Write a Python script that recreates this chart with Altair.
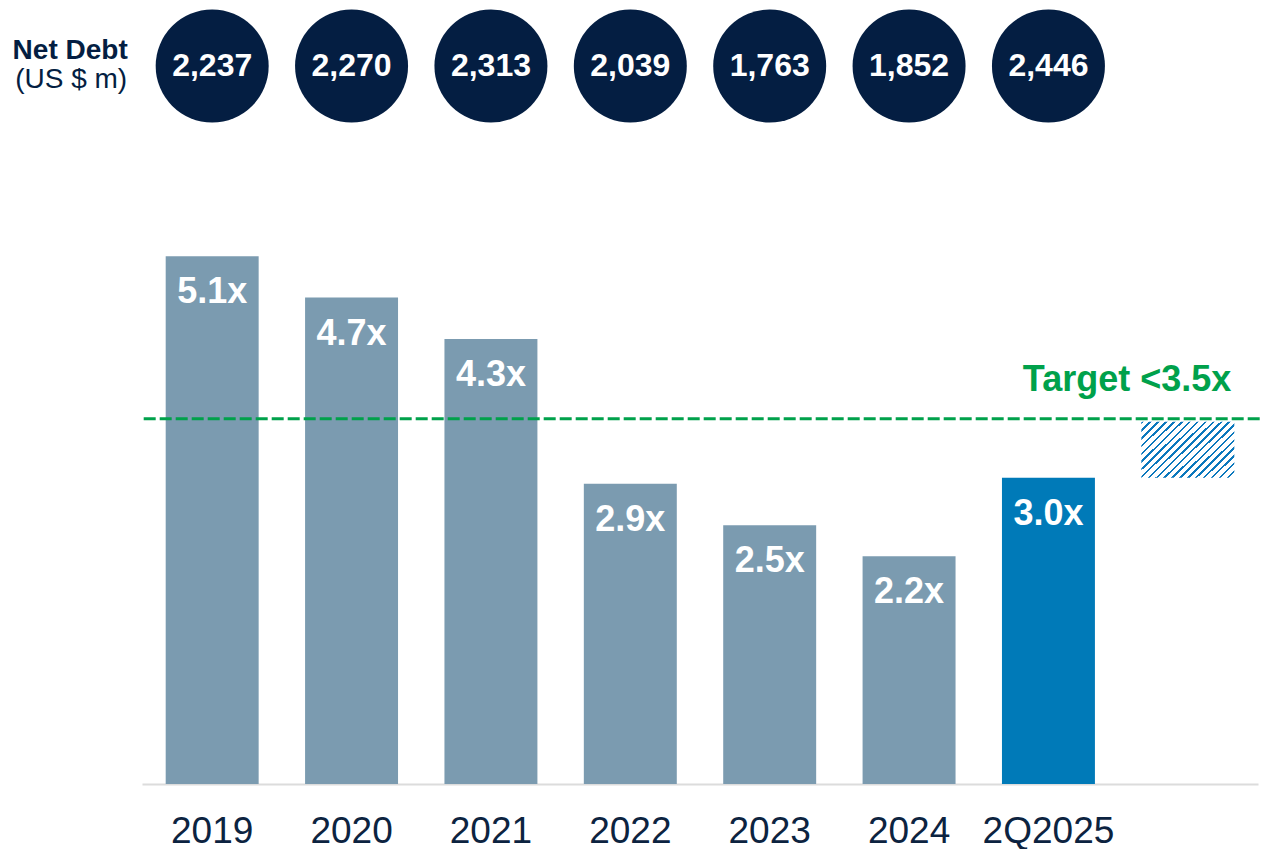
import altair as alt
import pandas as pd

# ---------------- data ----------------
years = ["2019", "2020", "2021", "2022", "2023", "2024", "2Q2025"]
leverage = [5.1, 4.7, 4.3, 2.9, 2.5, 2.2, 2.96]
bar_labels = ["5.1x", "4.7x", "4.3x", "2.9x", "2.5x", "2.2x", "3.0x"]
kinds = ["hist", "hist", "hist", "hist", "hist", "hist", "current"]
net_debt = [2237, 2270, 2313, 2039, 1763, 1852, 2446]
target_line = 3.53
target_label = "Target <3.5x"
gap_category = " "
headroom_top = [3.5]
headroom_bottom = [2.96]
side_title = ["Net Debt", "(US $ m)"]

x_domain = years + [gap_category]

# ---------------- style ----------------
FONT = "Liberation Sans"
NAVY = "#041e42"
GREY = "#7b9bb0"
BLUE = "#007ab8"
GREEN = "#00a14b"
LABEL = "#0c2340"
HATCH = "#0b78bd"

# diagonal hatch built from a hard-stop linear gradient
n_stripes = 19
frac = 0.32
stops = []
for i in range(n_stripes):
    a = i / n_stripes
    b = (i + frac) / n_stripes
    stops += [
        {"offset": a, "color": "white"},
        {"offset": a, "color": HATCH},
        {"offset": b, "color": HATCH},
        {"offset": b, "color": "white"},
    ]
stops.append({"offset": 1, "color": "white"})
hatch_fill = {"gradient": "linear", "x1": 0, "y1": 0, "x2": 1.172, "y2": 0.719, "stops": stops}

bars_df = pd.DataFrame({"year": years, "lev": leverage, "label": bar_labels, "kind": kinds})
nd_df = pd.DataFrame({"year": years, "nd": net_debt})
target_df = pd.DataFrame({
    "year": [gap_category], "start": [years[0]], "end": [gap_category],
    "lev": [target_line], "label": [target_label],
})
head_df = pd.DataFrame({"year": [gap_category], "top": headroom_top, "bottom": headroom_bottom})
title_df = pd.DataFrame({"year": [years[0]], "t1": [side_title[0]], "t2": [side_title[1]]})

W = 1116
xscale = alt.Scale(domain=x_domain, paddingInner=0.333, paddingOuter=0.17)
yscale = alt.Scale(domain=[0, 6], nice=False, zero=True)

x_bottom = alt.X(
    "year:N",
    scale=xscale,
    sort=None,
    title=None,
    axis=alt.Axis(
        domainColor="#dcdcdc",
        domainWidth=2,
        ticks=False,
        tickSize=0,
        grid=False,
        labelFont=FONT,
        labelFontSize=37,
        labelColor=LABEL,
        labelPadding=58,
        labelBaseline="alphabetic",
        labelAngle=0,
    ),
)

bars = alt.Chart(bars_df).mark_bar().encode(
    x=x_bottom,
    y=alt.Y("lev:Q", scale=yscale, axis=None),
    color=alt.Color("kind:N", scale=alt.Scale(domain=["hist", "current"], range=[GREY, BLUE]), legend=None),
)

bar_text = alt.Chart(bars_df).mark_text(
    baseline="alphabetic", dy=47, font=FONT, fontSize=36, fontWeight="bold", color="white"
).encode(x="year:N", y="lev:Q", text="label:N")

headroom = alt.Chart(head_df).mark_bar(fill=hatch_fill).encode(
    x="year:N", y="top:Q", y2="bottom:Q"
)

rule = alt.Chart(target_df).mark_rule(
    color=GREEN, strokeWidth=3, strokeDash=[12, 4], xOffset=-22, x2Offset=29
).encode(
    x=alt.X("start:N", bandPosition=0),
    x2=alt.X2("end:N", bandPosition=1),
    y="lev:Q",
)

target_text = alt.Chart(target_df).mark_text(
    align="right", baseline="alphabetic", dy=-28, dx=-3,
    font=FONT, fontSize=36, fontWeight="bold", color=GREEN
).encode(x=alt.X("year:N", bandPosition=1), y="lev:Q", text="label:N")

bottom = alt.layer(bars, headroom, rule, bar_text, target_text).properties(width=W, height=621)

x_top = alt.X("year:N", axis=None)
circles = alt.Chart(nd_df).mark_circle(size=12769, color=NAVY, opacity=1).encode(x=x_top)
circle_text = alt.Chart(nd_df).mark_text(
    font=FONT, fontSize=32, fontWeight="bold", color="white", baseline="middle"
).encode(x=x_top, text=alt.Text("nd:Q", format=","))
t1 = alt.Chart(title_df).mark_text(
    dx=-142, dy=-7, baseline="alphabetic", font=FONT, fontSize=28, fontWeight="bold", color=NAVY
).encode(x=x_top, text="t1:N")
t2 = alt.Chart(title_df).mark_text(
    dx=-141, dy=22, baseline="alphabetic", font=FONT, fontSize=28, color=NAVY
).encode(x=x_top, text="t2:N")

top = alt.layer(circles, circle_text, t1, t2).properties(width=W, height=116)

chart = (
    alt.vconcat(top, bottom, spacing=39, bounds="flush")
    .resolve_scale(x="shared")
    .properties(padding={"left": 4, "top": 0, "right": 0, "bottom": 0})
    .configure_view(stroke=None)
)

chart.save("out.html", embed_options={"renderer": "svg", "actions": False})
